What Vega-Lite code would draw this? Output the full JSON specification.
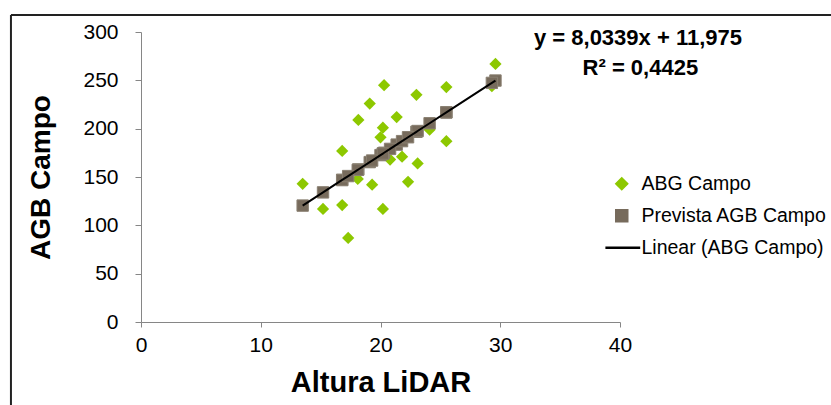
{
  "$schema": "https://vega.github.io/schema/vega-lite/v6.json",
  "width": 479,
  "height": 290,
  "autosize": "none",
  "padding": {"left": 141, "top": 32, "right": 211, "bottom": 83},
  "background": "white",
  "config": {
    "view": {"stroke": null},
    "font": "Liberation Sans",
    "axis": {
      "domainColor": "#868686",
      "tickColor": "#868686",
      "grid": false,
      "labelFlush": false,
      "labelFont": "Liberation Sans",
      "labelColor": "black",
      "labelFontSize": 21,
      "titleFont": "Liberation Sans",
      "titleColor": "black",
      "titleFontWeight": "bold",
      "titleBaseline": "alphabetic"
    },
    "legend": {
      "title": null,
      "orient": "none",
      "legendX": 471,
      "legendY": 142,
      "padding": 0,
      "labelFont": "Liberation Sans",
      "labelFontSize": 19.5,
      "labelColor": "black",
      "labelLimit": 400,
      "labelOffset": 10,
      "rowPadding": 11,
      "symbolSize": 144,
      "symbolOpacity": 1
    }
  },
  "datasets": {
    "pts": [
      {"x": 29.6, "agb": 267, "pred": 249.78},
      {"x": 29.3, "agb": 244, "pred": 247.37},
      {"x": 20.3, "agb": 245, "pred": 175.06},
      {"x": 25.5, "agb": 243, "pred": 216.84},
      {"x": 23.0, "agb": 235, "pred": 196.75},
      {"x": 19.1, "agb": 226, "pred": 165.42},
      {"x": 18.15, "agb": 209, "pred": 157.79},
      {"x": 21.35, "agb": 212, "pred": 183.50},
      {"x": 20.2, "agb": 201, "pred": 174.26},
      {"x": 20.0, "agb": 191, "pred": 172.65},
      {"x": 24.1, "agb": 199, "pred": 205.59},
      {"x": 25.5, "agb": 187, "pred": 216.84},
      {"x": 16.8, "agb": 177, "pred": 146.94},
      {"x": 21.8, "agb": 171, "pred": 187.11},
      {"x": 20.8, "agb": 168, "pred": 179.08},
      {"x": 23.1, "agb": 164, "pred": 197.56},
      {"x": 18.1, "agb": 148, "pred": 157.39},
      {"x": 19.3, "agb": 142, "pred": 167.03},
      {"x": 22.3, "agb": 145, "pred": 191.13},
      {"x": 13.5, "agb": 143, "pred": 120.43},
      {"x": 16.8, "agb": 121, "pred": 146.94},
      {"x": 15.2, "agb": 117, "pred": 134.09},
      {"x": 20.2, "agb": 117, "pred": 174.26},
      {"x": 17.3, "agb": 87, "pred": 150.96}
    ],
    "notes": [
      {"label": "y = 8,0339x + 11,975", "nx": 41.5, "ny": 286.6},
      {"label": "R² = 0,4425", "nx": 41.7, "ny": 255.5}
    ],
    "frame": [
      {"fx": -10.86, "fx2": 60, "fy": 317.6, "fy2": 317.6},
      {"fx": -10.86, "fx2": -10.86, "fy": 317.6, "fy2": -120}
    ]
  },
  "layer": [
    {
      "data": {"name": "pts"},
      "mark": {"type": "point", "filled": true, "size": 150, "opacity": 1},
      "encoding": {
        "x": {
          "field": "x",
          "type": "quantitative",
          "scale": {"domain": [0, 40], "nice": false},
          "axis": {
            "values": [0, 10, 20, 30, 40],
            "title": "Altura LiDAR",
            "titleFontSize": 29,
            "tickSize": 5,
            "labelPadding": 7,
            "titlePadding": 36
          }
        },
        "y": {
          "field": "agb",
          "type": "quantitative",
          "scale": {"domain": [0, 300], "nice": false},
          "axis": {
            "values": [0, 50, 100, 150, 200, 250, 300],
            "title": "AGB Campo",
            "titleFontSize": 28,
            "tickSize": 6,
            "labelPadding": 17,
            "titlePadding": 33
          }
        },
        "color": {
          "datum": "ABG Campo",
          "scale": {
            "domain": ["ABG Campo", "Prevista AGB Campo", "Linear (ABG Campo)"],
            "range": ["#8dc800", "#776b5c", "#000000"]
          }
        },
        "shape": {
          "datum": "ABG Campo",
          "scale": {
            "domain": ["ABG Campo", "Prevista AGB Campo", "Linear (ABG Campo)"],
            "range": ["diamond", "square", "M-2.6,-0.09L2.95,-0.09L2.95,0.09L-2.6,0.09Z"]
          }
        }
      }
    },
    {
      "data": {"name": "pts"},
      "mark": {"type": "point", "filled": true, "size": 130, "opacity": 1, "stroke": "#8a8072", "strokeWidth": 1},
      "encoding": {
        "x": {"field": "x", "type": "quantitative"},
        "y": {"field": "pred", "type": "quantitative"},
        "color": {"datum": "Prevista AGB Campo"},
        "shape": {"datum": "Prevista AGB Campo"}
      }
    },
    {
      "data": {"name": "pts"},
      "mark": {"type": "line", "strokeWidth": 2},
      "encoding": {
        "x": {"field": "x", "type": "quantitative"},
        "y": {"field": "pred", "type": "quantitative"},
        "color": {"datum": "Linear (ABG Campo)"}
      }
    },
    {
      "data": {"name": "notes"},
      "mark": {"type": "text", "fontWeight": "bold", "fontSize": 22, "align": "center", "baseline": "alphabetic", "color": "black", "font": "Liberation Sans"},
      "encoding": {
        "x": {"field": "nx", "type": "quantitative"},
        "y": {"field": "ny", "type": "quantitative"},
        "text": {"field": "label"}
      }
    },
    {
      "data": {"name": "frame"},
      "mark": {"type": "rule", "color": "#222222", "strokeWidth": 2},
      "encoding": {
        "x": {"field": "fx", "type": "quantitative"},
        "x2": {"field": "fx2"},
        "y": {"field": "fy", "type": "quantitative"},
        "y2": {"field": "fy2"}
      }
    }
  ]
}
